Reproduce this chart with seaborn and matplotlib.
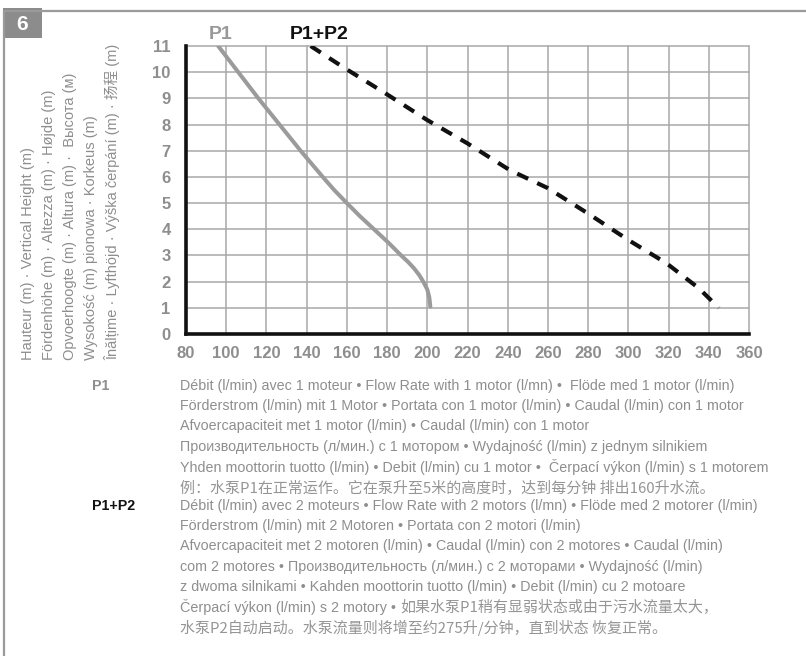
import matplotlib
matplotlib.use("Agg")
import matplotlib.pyplot as plt
import seaborn as sns
import pandas as pd

# pump curves: flow (l/min) against height (m)
p1_flow = [96, 106, 116, 126.5, 137, 148, 153.7, 160, 166.5, 173.5, 180.5, 187, 190.5, 193.5, 196, 198, 200, 201, 201.5]
p1_height = [11, 10, 9, 8, 7, 6, 5.5, 5, 4.5, 4, 3.5, 3, 2.75, 2.5, 2.25, 2, 1.7, 1.4, 1.05]

p12_flow = [142, 158, 179, 200, 220, 241, 260, 280, 300, 319, 335, 345]
p12_height = [11, 10.2, 9.2, 8.17, 7.28, 6.26, 5.57, 4.6, 3.59, 2.7, 1.75, 1.0]

x_ticks = list(range(80, 361, 20))
y_ticks = list(range(0, 12))

y_label_lines = [
    "Hauteur (m) · Vertical Height (m)",
    "Fördenhöhe (m) · Altezza (m) · Højde (m)",
    "Opvoerhoogte (m) · Altura (m) ·  Высота (м)",
    "Wysokość (m) pionowa · Korkeus (m)",
    "Înălțime · Lyfthöjd · Výška čerpání (m) · 扬程 (m)",
]

p1_lines = [
    "Débit (l/min) avec 1 moteur • Flow Rate with 1 motor (l/mn) •  Flöde med 1 motor (l/min)",
    "Förderstrom (l/min) mit 1 Motor • Portata con 1 motor (l/min) • Caudal (l/min) con 1 motor",
    "Afvoercapaciteit met 1 motor (l/min) • Caudal (l/min) con 1 motor",
    "Производительность (л/мин.) с 1 мотором • Wydajność (l/min) z jednym silnikiem",
    "Yhden moottorin tuotto (l/min) • Debit (l/min) cu 1 motor •  Čerpací výkon (l/min) s 1 motorem",
]
p1_cn = "例：水泵P1在正常运作。它在泵升至5米的高度时，达到每分钟 排出160升水流。"

p12_lines = [
    "Débit (l/min) avec 2 moteurs • Flow Rate with 2 motors (l/mn) • Flöde med 2 motorer (l/min)",
    "Förderstrom (l/min) mit 2 Motoren • Portata con 2 motori (l/min)",
    "Afvoercapaciteit met 2 motoren (l/min) • Caudal (l/min) con 2 motores • Caudal (l/min)",
    "com 2 motores • Производительность (л/мин.) с 2 моторами • Wydajność (l/min)",
    "z dwoma silnikami • Kahden moottorin tuotto (l/min) • Debit (l/min) cu 2 motoare",
    "Čerpací výkon (l/min) s 2 motory •",
]
p12_cn = ["如果水泵P1稍有显弱状态或由于污水流量太大，",
          "水泵P2自动启动。水泵流量则将增至约275升/分钟，直到状态 恢复正常。"]

sns.set_style("white")
latin = ["Liberation Sans", "Noto Sans CJK SC"]
cjk = ["Noto Sans CJK SC", "DejaVu Sans"]
plt.rcParams["font.family"] = latin

GRAY = "#8e8e8e"
W, H = 806, 656
TEXT_X = 180
FS = 10.3
CJK_FS = 10.8


def px(x, y):
    return x / W, 1 - y / H


fig = plt.figure(figsize=(W / 100, H / 100), dpi=100)
ax = fig.add_axes([186 / W, 1 - 334 / H, (749 - 186) / W, (334 - 46) / H])

curves = pd.DataFrame({"flow": p1_flow, "height": p1_height})
curves2 = pd.DataFrame({"flow": p12_flow, "height": p12_height})
sns.lineplot(data=curves, x="flow", y="height", sort=False, estimator=None,
             color="#9b9b9b", linewidth=2.9, ax=ax)
sns.lineplot(data=curves2, x="flow", y="height", sort=False, estimator=None,
             color="#111111", linewidth=3.0, linestyle=(0, (2.9, 2.4)), ax=ax)

ax.set_xlim(80, 360)
ax.set_ylim(0, 11)
ax.set_xticks(x_ticks)
ax.set_yticks(y_ticks)
ax.grid(True, color="#a8a8a8", linewidth=1.1)
ax.set_axisbelow(True)
for g in ax.get_xgridlines() + ax.get_ygridlines():
    g.set_clip_on(False)
ax.tick_params(length=0, labelsize=12, labelcolor=GRAY)
ax.tick_params(axis="x", pad=9)
ax.tick_params(axis="y", pad=11)
for lab in ax.get_xticklabels() + ax.get_yticklabels():
    lab.set_fontweight("bold")
ax.set_xlabel("")
ax.set_ylabel("")
for s in ["top", "right"]:
    ax.spines[s].set_visible(False)
for s in ["left", "bottom"]:
    ax.spines[s].set_color("#111111")
    ax.spines[s].set_linewidth(2.6)

ax.text(97, 11.12, "P1", ha="center", va="bottom", fontsize=14, fontweight="bold",
        color="#999999")
ax.text(146, 11.12, "P1+P2", ha="center", va="bottom", fontsize=14, fontweight="bold",
        color="#111111")

# frame and badge
fig.add_artist(plt.Line2D([4 / W, 1], [1 - 11 / H] * 2, color="#9a9a9a", lw=1.6))
fig.add_artist(plt.Line2D([4 / W, 4 / W], [0, 1 - 11 / H], color="#9a9a9a", lw=1.6))
fig.add_artist(plt.Rectangle(px(3, 38), 39 / W, 30 / H, color="#8c8c8c", lw=0))
fig.text(*px(22, 24), "6", ha="center", va="center", fontsize=15, fontweight="bold",
         color="white")

# rotated axis label, one line per language group
for i, line in enumerate(y_label_lines):
    fig.text(*px([28, 49, 70, 91, 112][i], 360), line, rotation=90, ha="center",
             va="bottom", fontsize=10.5, color=GRAY)

# explanation under the chart
fig.text(*px(92, 386), "P1", ha="left", va="center", fontsize=FS, fontweight="bold",
         color=GRAY)
for i, line in enumerate(p1_lines):
    fig.text(*px(TEXT_X, 386 + 20.2 * i), line, ha="left", va="center", fontsize=FS,
             color=GRAY)
fig.text(*px(TEXT_X, 387 + 20.2 * 5), p1_cn, ha="left", va="center", fontsize=CJK_FS,
         color="#959595", family=cjk)

fig.text(*px(92, 506), "P1+P2", ha="left", va="center", fontsize=FS, fontweight="bold",
         color="#111111")
last = None
for i, line in enumerate(p12_lines):
    last = fig.text(*px(TEXT_X, 506 + 20.2 * i), line, ha="left", va="center",
                    fontsize=FS, color=GRAY)
fig.canvas.draw()
bb = last.get_window_extent()
fig.text((bb.x1 + 4) / W, 1 - (507 + 20.2 * 5) / H, p12_cn[0], ha="left", va="center",
         fontsize=CJK_FS, color="#959595", family=cjk)
fig.text(*px(TEXT_X, 507 + 20.2 * 6), p12_cn[1], ha="left", va="center", fontsize=CJK_FS,
         color="#959595", family=cjk)

fig.savefig("out.png", dpi=100)
